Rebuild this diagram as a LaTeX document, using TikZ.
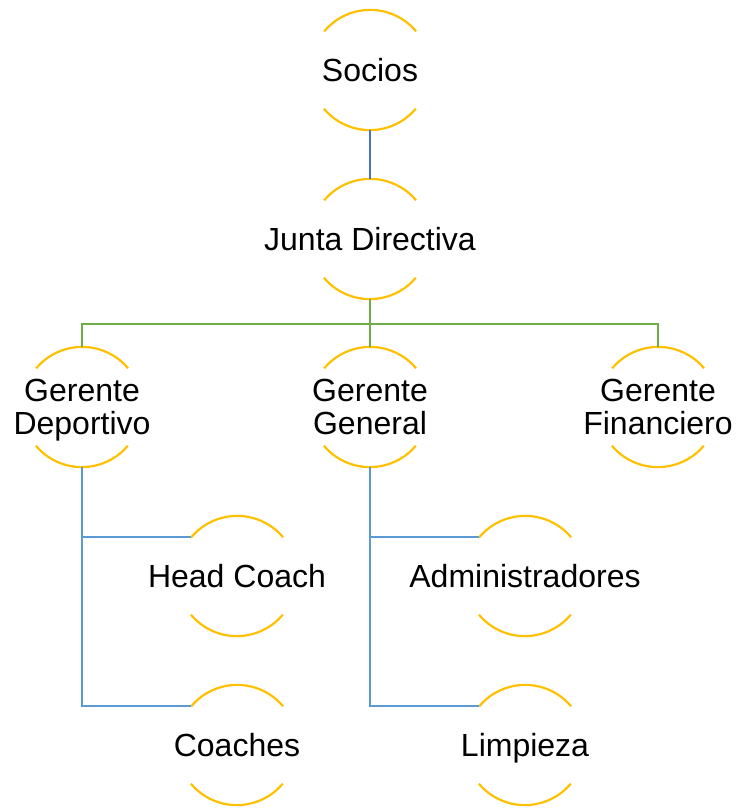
\documentclass[tikz,border=0pt]{standalone}
\usepackage{fontspec}
\setmainfont{Liberation Sans}
\definecolor{ringyellow}{HTML}{FFC000}
\definecolor{linkdark}{HTML}{4472C4}
\definecolor{linklight}{HTML}{5B9BD5}
\definecolor{linkgreen}{HTML}{70AD47}
\tikzset{
  ring/.style={circle, draw=none, minimum size=120pt, inner sep=0pt},
  lbl/.style={align=center, font=\fontsize{32}{33}\selectfont, inner sep=0pt},
  onelbl/.style={lbl, text height=23pt, text depth=7pt, yshift=-3.5pt},
  twolbl/.style={lbl, text depth=7pt, yshift=-3.5pt},
  arcline/.style={draw=ringyellow, line width=2.2pt},
  linkA/.style={draw=linkdark, line width=2.2pt},
  linkB/.style={draw=linklight, line width=2.2pt},
  linkC/.style={draw=linkgreen, line width=2.2pt},
}
\newcommand{\ringarcs}[1]{%
  \draw[arcline] (#1.40) arc[start angle=40, end angle=140, radius=60pt];
  \draw[arcline] (#1.220) arc[start angle=220, end angle=320, radius=60pt];
}
\begin{document}
\begin{tikzpicture}[x=1pt,y=1pt]
\useasboundingbox (0,0) rectangle (738,-808);
\node[ring] (s) at (370,-70) {};
\node[ring] (j) at (370,-239) {};
\node[ring] (gd) at (82,-407) {};
\node[ring] (gg) at (370,-407) {};
\node[ring] (gf) at (658,-407) {};
\node[ring] (hc) at (237,-576) {};
\node[ring] (co) at (237,-745) {};
\node[ring] (ad) at (525,-576) {};
\node[ring] (li) at (525,-745) {};
\foreach \n in {s,j,gd,gg,gf,hc,co,ad,li} {\ringarcs{\n}}
\node[onelbl] (ts) at (s) {Socios};
\node[onelbl] (tj) at (j) {Junta Directiva};
\node[twolbl] (tgd) at (gd) {Gerente\\Deportivo};
\node[twolbl] (tgg) at (gg) {Gerente\\General};
\node[twolbl] (tgf) at (gf) {Gerente\\Financiero};
\node[onelbl] (thc) at (hc) {Head Coach};
\node[onelbl] (tco) at (co) {Coaches};
\node[onelbl] (tad) at (ad) {Administradores};
\node[onelbl] (tli) at (li) {Limpieza};
\draw[linkA] (s.south) -- (j.north);
\coordinate (jb) at ([yshift=-25pt]j.south);
\draw[linkC] (j.south) -- (jb) -| (gd.north);
\draw[linkC] (jb) -| (gf.north);
\draw[linkC] (jb) -- (gg.north);
\draw[linkB] (gd.south) |- (hc.140);
\draw[linkB] (gd.south) |- (co.140);
\draw[linkB] (gg.south) |- (ad.140);
\draw[linkB] (gg.south) |- (li.140);
\end{tikzpicture}
\end{document}
